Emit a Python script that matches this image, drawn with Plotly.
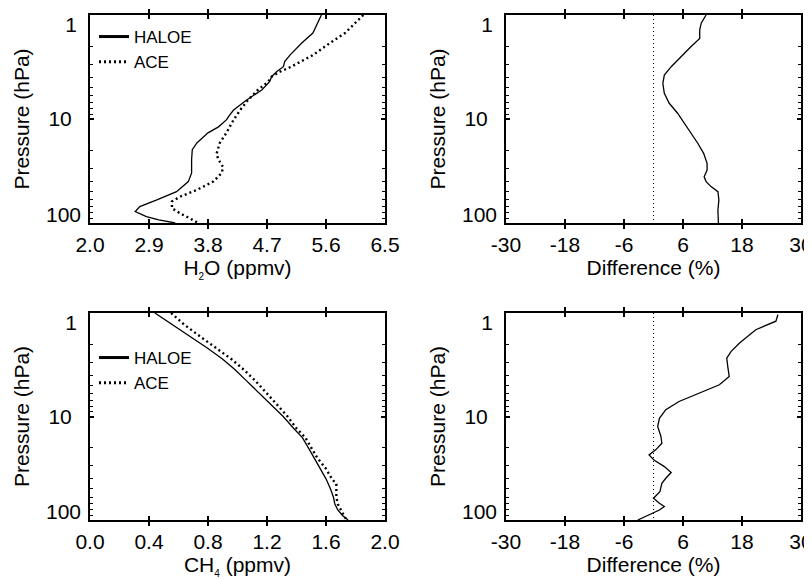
import plotly.graph_objects as go

# ---------------- data ----------------
# H2O panel (pressure in hPa, mixing ratio in ppmv)
haloe_h2o_p = [1.0, 1.2, 1.49, 1.86, 2.43, 2.81, 3.14, 3.5, 3.92, 4.37, 5.26, 6.57, 8.2, 9.16,
               10.2, 11.9, 13.6, 17, 19.7, 24.6, 33, 40, 50, 60, 69.6, 77.7, 87, 93.4, 100]
haloe_h2o = [5.53, 5.47, 5.40, 5.23, 5.05, 4.97, 4.95, 4.85, 4.77, 4.74, 4.62, 4.39, 4.19, 4.13,
             4.08, 3.96, 3.80, 3.63, 3.56, 3.55, 3.55, 3.50, 3.32, 3.02, 2.76, 2.69, 2.86, 3.05, 3.30]
ace_h2o_p = [1.0, 1.49, 1.86, 2.43, 3.14, 3.5, 3.92, 4.37, 5.26, 6.57, 8.2, 10.2, 13.6, 17,
             21.6, 24.6, 29, 33, 40, 48, 56, 62, 72, 80.5, 90, 100]
ace_h2o = [6.17, 5.89, 5.66, 5.40, 5.07, 4.90, 4.77, 4.72, 4.56, 4.41, 4.29, 4.19, 4.08, 3.98,
           3.93, 3.96, 4.03, 4.01, 3.88, 3.63, 3.37, 3.25, 3.25, 3.37, 3.52, 3.65]

# H2O difference (%)
diff_h2o_p = [1.0, 1.2, 1.39, 1.68, 2.02, 2.52, 3.14, 3.78, 4.54, 5.66, 7.06, 8.8, 11, 13.7,
              17.1, 21.4, 26.7, 31, 35.9, 40, 44.7, 50, 60, 75, 100]
diff_h2o = [10.7, 9.7, 9.4, 9.4, 7.6, 5.6, 3.6, 2.2, 1.9, 2.2, 3.2, 4.9, 6.3, 7.6,
            9.0, 10.2, 10.9, 10.9, 10.3, 10.7, 11.7, 13.1, 13.3, 13.1, 13.2]

# CH4 panel
haloe_ch4_p = [1.0, 1.3, 1.7, 2.2, 2.8, 3.5, 4.5, 6.0, 8.0, 10, 13, 16, 20, 25, 32, 40, 50,
               60, 70, 80, 90, 100]
haloe_ch4 = [0.44, 0.56, 0.68, 0.80, 0.90, 0.98, 1.06, 1.15, 1.24, 1.31, 1.38, 1.44, 1.48,
             1.52, 1.56, 1.60, 1.63, 1.65, 1.66, 1.68, 1.71, 1.75]
ace_ch4_p = [1.0, 1.3, 1.7, 2.2, 2.8, 3.5, 4.5, 6.0, 8.0, 10, 13, 16, 20, 25, 32, 40, 45, 50,
             60, 70, 80, 90, 100]
ace_ch4 = [0.55, 0.64, 0.75, 0.86, 0.96, 1.04, 1.12, 1.20, 1.28, 1.34, 1.40, 1.46, 1.50,
           1.54, 1.60, 1.64, 1.67, 1.67, 1.67, 1.68, 1.70, 1.72, 1.74]

# CH4 difference (%)
diff_ch4_p = [1.04, 1.2, 1.45, 1.95, 2.35, 2.73, 3.28, 4.1, 4.94, 5.94, 7.16, 8.6, 10.4, 12.5,
              15.5, 18.1, 20.9, 23.5, 26.3, 30.5, 34.8, 39.5, 44.2, 53.2, 61.7, 69, 74, 80, 86, 100]
diff_ch4 = [25.3, 24.9, 20.8, 17.5, 15.8, 14.9, 15.1, 15.4, 13.4, 9.3, 5.2, 2.5, 1.2, 0.85,
            1.5, 1.7, 0.5, -0.9, 0.1, 2.2, 3.6, 2.5, 1.7, 1.3, 0.0, 1.2, 2.2, 1.2, -0.3, -3.2]

zero_x = [0, 0]
zero_p = [1, 100]

h2o_ticks = [2.0, 2.9, 3.8, 4.7, 5.6, 6.5]
ch4_ticks = [0.0, 0.4, 0.8, 1.2, 1.6, 2.0]
diff_ticks = [-30, -18, -6, 6, 18, 30]
p_ticks = [1, 10, 100]
p_minor = [2, 3, 4, 5, 6, 7, 8, 9, 20, 30, 40, 50, 60, 70, 80, 90]
series_names = ["HALOE", "ACE"]

# ---------------- figure ----------------
# the page body keeps the browser's 8px margin, so the figure is 8px smaller
W, H = 804, 571
FONT = "Liberation Sans, Arial, Helvetica, sans-serif"
TF = dict(family=FONT, size=21, color="black")

fig = go.Figure()

solid = dict(color="black", width=1.3)
dotted = dict(color="black", width=2.4, dash="2px,3px")
zline = dict(color="black", width=1, dash="1px,3px")
leg_solid = dict(color="black", width=3)
leg_dotted = dict(color="black", width=3, dash="2px,3px")

fig.add_trace(go.Scatter(x=haloe_h2o, y=haloe_h2o_p, mode="lines", line=solid,
                         showlegend=False, xaxis="x", yaxis="y"))
fig.add_trace(go.Scatter(x=ace_h2o, y=ace_h2o_p, mode="lines", line=dotted,
                         showlegend=False, xaxis="x", yaxis="y"))
fig.add_trace(go.Scatter(x=zero_x, y=zero_p, mode="lines", line=zline, showlegend=False,
                         xaxis="x2", yaxis="y2"))
fig.add_trace(go.Scatter(x=diff_h2o, y=diff_h2o_p, mode="lines", line=solid, showlegend=False,
                         xaxis="x2", yaxis="y2"))
fig.add_trace(go.Scatter(x=haloe_ch4, y=haloe_ch4_p, mode="lines", line=solid,
                         showlegend=False, xaxis="x3", yaxis="y3"))
fig.add_trace(go.Scatter(x=ace_ch4, y=ace_ch4_p, mode="lines", line=dotted,
                         showlegend=False, xaxis="x3", yaxis="y3"))
fig.add_trace(go.Scatter(x=zero_x, y=zero_p, mode="lines", line=zline, showlegend=False,
                         xaxis="x4", yaxis="y4"))
fig.add_trace(go.Scatter(x=diff_ch4, y=diff_ch4_p, mode="lines", line=solid, showlegend=False,
                         xaxis="x4", yaxis="y4"))

# legend entries (thicker line samples, as in the original key)
for leg, xa, ya in (("legend", "x", "y"), ("legend2", "x3", "y3")):
    for nm, ln in zip(series_names, (leg_solid, leg_dotted)):
        fig.add_trace(go.Scatter(x=[None], y=[None], mode="lines", line=ln, name=nm,
                                 legend=leg, xaxis=xa, yaxis=ya))

xl, xr = [82 / W, 377 / W], [498 / W, 793 / W]
yt, yb = [1 - 215 / H, 1 - 7 / H], [1 - 512 / H, 1 - 305 / H]


def xax(dom, anchor, rng, ticks, fmt, title):
    return dict(domain=dom, anchor=anchor, range=rng, tickvals=ticks,
                ticktext=[fmt.format(t) for t in ticks],
                showline=True, linewidth=2, linecolor="black", mirror="allticks",
                ticks="inside", ticklen=4, tickwidth=1.5, tickcolor="black",
                showgrid=False, zeroline=False, ticklabelstandoff=2,
                ticklabeloverflow="allow", tickfont=TF,
                title=dict(text=title, standoff=0, font=TF))


def yax(dom, anchor):
    # main pressure axis: all ticks, only the middle label ("10")
    return dict(domain=dom, anchor=anchor, type="log", range=[2, 0],
                tickvals=p_ticks, ticktext=["", str(p_ticks[1]), ""],
                showline=True, linewidth=2, linecolor="black", mirror="allticks",
                ticks="inside", ticklen=4, tickwidth=1.5, tickcolor="black",
                minor=dict(tickvals=p_minor, ticks="inside", ticklen=3, tickwidth=1.2,
                           tickcolor="black", showgrid=False),
                showgrid=False, zeroline=False, ticklabelstandoff=12,
                ticklabeloverflow="allow", tickfont=TF,
                title=dict(text="Pressure (hPa)", standoff=13, font=TF))


def ylab(dom, anchor, over, val, shift, standoff):
    # label-only overlay, nudging the end labels inward as in the original
    return dict(domain=dom, anchor=anchor, overlaying=over, type="log", range=[2, 0],
                tickvals=[val], ticktext=[str(val)], ticks="inside", ticklen=4,
                tickcolor="rgba(0,0,0,0)", showline=False,
                showgrid=False, zeroline=False, side="left", ticklabelstandoff=standoff,
                ticklabelshift=shift, ticklabeloverflow="allow", tickfont=TF)


h2o_title = "H<sub><span style='font-size:10px'>2</span></sub>O (ppmv)"
ch4_title = "CH<sub><span style='font-size:10px'>4</span></sub> (ppmv)"

legend_common = dict(bgcolor="rgba(0,0,0,0)", borderwidth=0, itemwidth=30,
                     font=dict(family=FONT, size=17, color="black"),
                     xanchor="left", yanchor="top", tracegroupgap=0, itemclick=False)

layout = dict(
    width=W, height=H, template="none",
    paper_bgcolor="white", plot_bgcolor="white",
    margin=dict(l=0, r=0, t=0, b=0),
    font=dict(family=FONT, color="black"),
    xaxis=xax(xl, "y", [2.0, 6.5], h2o_ticks, "{:.1f}", h2o_title),
    yaxis=yax(yt, "x"),
    xaxis2=xax(xr, "y2", [-30, 30], diff_ticks, "{:d}", "Difference (%)"),
    yaxis2=yax(yt, "x2"),
    xaxis3=xax(xl, "y3", [0.0, 2.0], ch4_ticks, "{:.1f}", ch4_title),
    yaxis3=yax(yb, "x3"),
    xaxis4=xax(xr, "y4", [-30, 30], diff_ticks, "{:d}", "Difference (%)"),
    yaxis4=yax(yb, "x4"),
    legend=dict(x=86 / W, y=1 - 11 / H, **legend_common),
    legend2=dict(x=86 / W, y=1 - 332 / H, **legend_common),
)

panels = [("x", "y", yt), ("x2", "y2", yt), ("x3", "y3", yb), ("x4", "y4", yb)]
k = 5
for xa, ya, dom in panels:
    for val, shift, so in ((p_ticks[0], -10, 12), (p_ticks[2], 8, 8)):
        layout["yaxis%d" % k] = ylab(dom, xa, ya, val, shift, so)
        fig.add_trace(go.Scatter(x=[None], y=[None], mode="lines", showlegend=False,
                                 hoverinfo="skip", xaxis=xa, yaxis="y%d" % k))
        k += 1

fig.update_layout(**layout)
fig.write_html("out.html")
